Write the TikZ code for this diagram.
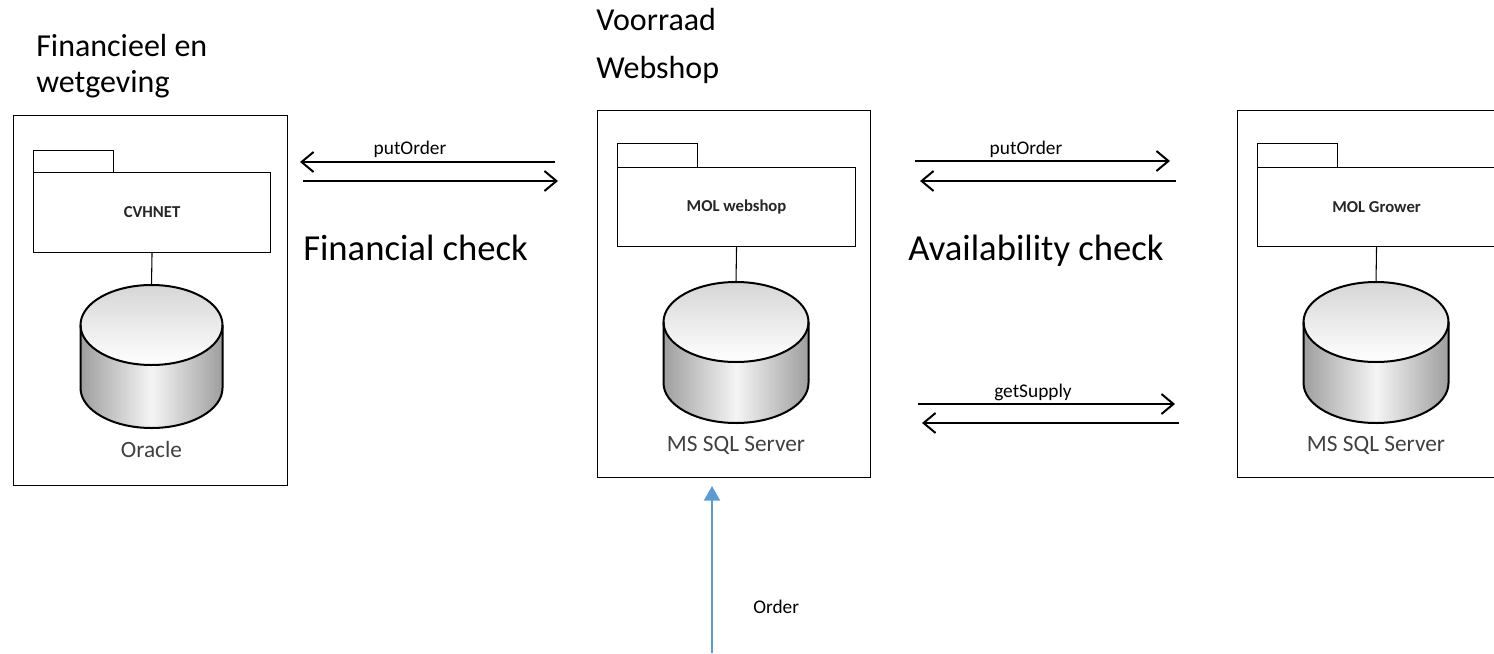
\documentclass[tikz,border=0pt]{standalone}
\usepackage{fontspec}
\setmainfont{Carlito}
\usetikzlibrary{arrows.meta}
\definecolor{orderblue}{HTML}{5B9BD5}
\definecolor{dbtext}{HTML}{404040}
\tikzset{
  sz/.style 2 args={minimum width=#1*0.75pt, minimum height=#2*0.75pt},
  frame/.style={draw=black, line width=0.8pt, inner sep=0pt, anchor=north west},
  pkg/.style={draw=black, line width=0.8pt, inner sep=0pt, anchor=north west, fill=white},
  pkglabel/.style={font=\fontsize{12.5}{14}\selectfont\bfseries, text=black!85},
  dblabel/.style={font=\fontsize{17.5}{21}\selectfont, text=dbtext, anchor=base, inner sep=0pt},
  bigtext/.style={font=\fontsize{24}{28}\selectfont, anchor=base west, inner sep=0pt},
  checktext/.style={font=\fontsize{27.5}{32}\selectfont, anchor=base west, inner sep=0pt},
  msgtext/.style={font=\fontsize{14.5}{17}\selectfont, anchor=base, inner sep=0pt},
  msg/.style={line width=1.5pt, -{Straight Barb[length=9pt, width=15pt, line width=1.5pt]}},
  orderarrow/.style={line width=1.6pt, draw=orderblue, -{Triangle[length=11pt, width=12pt]}, orderblue},
  cylline/.style={line width=1.5pt, draw=black},
}
% cylinder: #1 cx, #2 rx, #3 yt (top ellipse centre), #4 yb (bottom ellipse centre), #5 ry
\newcommand\dbcyl[5]{%
  \fill[left color=black!38, right color=black!38, middle color=black!4]
    ({#1-#2},#3) -- ({#1-#2},#4) arc[start angle=180, end angle=0, x radius=#2, y radius=#5]
    -- ({#1+#2},#3) arc[start angle=0, end angle=180, x radius=#2, y radius=#5] -- cycle;
  \fill[top color=black!16, bottom color=white] (#1,#3) ellipse[x radius=#2, y radius=#5];
  \draw[cylline] (#1,#3) ellipse[x radius=#2, y radius=#5];
  \draw[cylline] ({#1-#2},#3) -- ({#1-#2},#4) arc[start angle=180, end angle=0, x radius=#2, y radius=#5] -- ({#1+#2},#3);
}
\begin{document}
\begin{tikzpicture}[x=0.75pt, y=-0.75pt]
\useasboundingbox (0,0) rectangle (1494,653);
\begin{scope}
\clip (0,0) rectangle (1494,653);

% ---------- left system ----------
\node[frame, sz={274}{370}] (leftframe) at (13,115) {};
\node[pkg, sz={80}{22}] (lefttab) at (33,150) {};
\node[pkg, sz={237}{80}] (leftbody) at (33,172) {};
\node[pkglabel] at (leftbody.center) {CVHNET};
\coordinate (leftcyltop) at (151.5,285);
\draw[line width=0.8pt] (leftbody.south) -- (leftcyltop);
\dbcyl{151.5}{71}{325}{388}{40}
\node[dblabel] (oracle) at (151.5,457) {Oracle};

% ---------- middle system ----------
\node[frame, sz={273}{367}] (midframe) at (597,110) {};
\node[pkg, sz={80}{24}] (midtab) at (617,143) {};
\node[pkg, sz={238}{79}] (midbody) at (617,167) {};
\node[pkglabel] at (midbody.center) {MOL webshop};
\coordinate (midcyltop) at (736,282);
\draw[line width=0.8pt] (midbody.south) -- (midcyltop);
\dbcyl{736}{72.5}{322}{383}{40}
\node[dblabel] (midsql) at (736,451) {MS SQL Server};

% ---------- right system ----------
\node[frame, sz={273}{367}] (rightframe) at (1237,110) {};
\node[pkg, sz={80}{24}] (righttab) at (1257,143) {};
\node[pkg, sz={238}{79}] (rightbody) at (1257,167) {};
\node[pkglabel] at (rightbody.center) {MOL Grower};
\coordinate (rightcyltop) at (1376,282);
\draw[line width=0.8pt] (rightbody.south) -- (rightcyltop);
\dbcyl{1376}{72.5}{322}{383}{40}
\node[dblabel] (rightsql) at (1376,451) {MS SQL Server};
\end{scope}

% ---------- titles ----------
\node[bigtext] (fin1) at (36,56) {Financieel en};
\node[bigtext] (fin2) at (36,92) {wetgeving};
\node[bigtext] (voor) at (596,30) {Voorraad};
\node[bigtext] (webs) at (596,78) {Webshop};
\node[checktext] (fincheck) at (303,260) {Financial check};
\node[checktext] (avcheck) at (908,260) {Availability check};

% ---------- messages left ----------
\coordinate (a1s) at (555,162); \coordinate (a1e) at (300,162);
\coordinate (a2s) at (303,181); \coordinate (a2e) at (558,181);
\draw[msg] (a1s) -- (a1e);
\draw[msg] (a2s) -- (a2e);
\node[msgtext] (put1) at (410,154) {putOrder};

% ---------- messages right ----------
\coordinate (b1s) at (915,161); \coordinate (b1e) at (1170,161);
\coordinate (b2s) at (1176,181); \coordinate (b2e) at (920,181);
\draw[msg] (b1s) -- (b1e);
\draw[msg] (b2s) -- (b2e);
\node[msgtext] (put2) at (1026,154) {putOrder};

\coordinate (c1s) at (918,404); \coordinate (c1e) at (1175,404);
\coordinate (c2s) at (1179,423); \coordinate (c2e) at (922,423);
\draw[msg] (c1s) -- (c1e);
\draw[msg] (c2s) -- (c2e);
\node[msgtext] (supply) at (1033,397) {getSupply};

% ---------- order ----------
\coordinate (ordstart) at (712,653);
\coordinate (ordend) at (712,486);
\draw[orderarrow] (ordstart) -- (ordend);
\node[msgtext, anchor=base west] (order) at (753,613) {Order};
\end{tikzpicture}
\end{document}
